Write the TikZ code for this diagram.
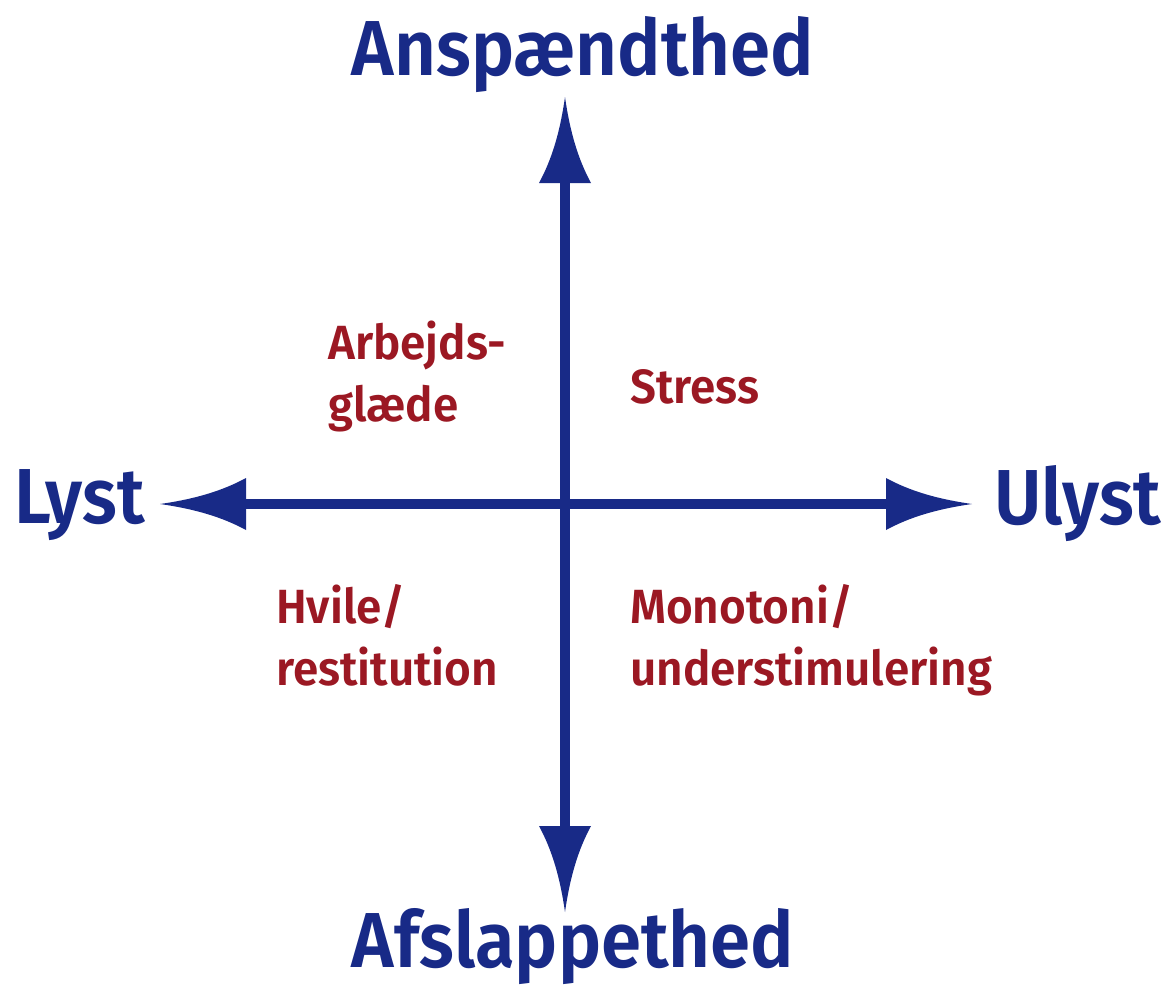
\documentclass[tikz,border=0pt]{standalone}
\usepackage{fontspec}
\setmainfont{Fira Sans}[BoldFont={Fira Sans SemiBold}]
\newfontfamily\polefont{Fira Sans}[BoldFont={Fira Sans SemiBold}, FakeStretch=0.93]
\newfontfamily\quadfont{Fira Sans}[BoldFont={Fira Sans SemiBold}, FakeStretch=0.955]
\usetikzlibrary{arrows.meta}
\definecolor{axisblue}{RGB}{24,42,135}
\definecolor{quadred}{RGB}{155,24,35}
\pgfdeclarearrow{
  name = ConcaveHead,
  setup code = {
    \pgfarrowssettipend{0pt}
    \pgfarrowssetlineend{-80pt}
    \pgfarrowssetbackend{-86pt}
    \pgfarrowsupperhullpoint{-86pt}{26pt}
    \pgfarrowsupperhullpoint{0pt}{0pt}
  },
  drawing code = {
    \pgfpathmoveto{\pgfpoint{0pt}{0pt}}
    \pgfpathcurveto{\pgfpoint{-35pt}{5pt}}{\pgfpoint{-62pt}{13pt}}{\pgfpoint{-86pt}{26pt}}
    \pgfpathlineto{\pgfpoint{-86pt}{-26pt}}
    \pgfpathcurveto{\pgfpoint{-62pt}{-13pt}}{\pgfpoint{-35pt}{-5pt}}{\pgfpoint{0pt}{0pt}}
    \pgfpathclose
    \pgfusepathqfill
  }
}
\tikzset{
  axisline/.style={draw=axisblue, fill=axisblue, line width=10pt, -{ConcaveHead}},
  polelabel/.style={inner sep=0pt, text=axisblue, font=\fontsize{78}{80}\polefont\bfseries},
  quadlabel/.style={inner sep=0pt, text=quadred, align=left, font=\fontsize{48}{62}\quadfont\bfseries}
}
\begin{document}
\begin{tikzpicture}[x=1pt,y=-1pt]
\useasboundingbox (0,0) rectangle (1169,989);
\coordinate (O) at (565,504);
\coordinate (T) at (565,97);
\coordinate (B) at (565,912);
\coordinate (L) at (160,504);
\coordinate (R) at (972,504);
\draw[axisline] (O) -- (T);
\draw[axisline] (O) -- (B);
\draw[axisline] (O) -- (L);
\draw[axisline] (O) -- (R);
\node[polelabel, anchor=base] (top) at (583,75) {Anspændthed};
\node[polelabel, anchor=base] (bottom) at (573,967) {Afslappethed};
\node[polelabel, anchor=base west] (left) at (14,523) {Lyst};
\node[polelabel, anchor=base west] (right) at (994,524) {Ulyst};
\node[quadlabel, anchor=base west] (q1) at (328,421) {Arbejds-\\glæde};
\node[quadlabel, anchor=base west] (q2) at (630,403) {Stress};
\node[quadlabel, anchor=base west] (q3) at (276,685) {Hvile/\\restitution};
\node[quadlabel, anchor=base west] (q4) at (630,685) {Monotoni/\\understimulering};
\end{tikzpicture}
\end{document}
